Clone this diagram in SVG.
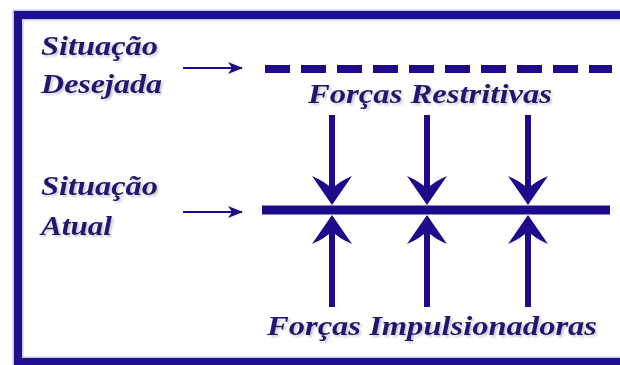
<svg xmlns="http://www.w3.org/2000/svg" width="620" height="365" viewBox="0 0 620 365">
  <style>
    .lbl { font-family: "Liberation Serif", "Times New Roman", serif; font-weight: bold; font-style: italic; font-size: 28px; fill: #22196f; }
    .ink { stroke: #1c0c8c; fill: none; }
    .head { fill: #1c0c8c; stroke: none; }
  </style>
  <defs>
    <filter id="soft" x="-5%" y="-20%" width="110%" height="140%">
      <feGaussianBlur in="SourceAlpha" stdDeviation="1.2"/>
      <feOffset dx="1.5" dy="1.5" result="b"/>
      <feComponentTransfer><feFuncA type="linear" slope="0.2"/></feComponentTransfer>
      <feMerge><feMergeNode/><feMergeNode in="SourceGraphic"/></feMerge>
    </filter>
    <marker id="tip" viewBox="0 0 15 12" refX="14" refY="6" markerWidth="15" markerHeight="12" markerUnits="userSpaceOnUse" orient="auto">
      <path d="M0,0 L15,6 L0,12 L4,6 Z" fill="#1c0c8c"/>
    </marker>
  </defs>

  <rect width="620" height="365" fill="#ffffff"/>

  <!-- outer frame, open to the right -->
  <g id="frame">
    <rect x="18" y="15" width="640" height="347" fill="none" stroke="#c9c6f0" stroke-width="11"/>
    <rect x="18" y="15" width="640" height="347" fill="none" stroke="#1d0f8f" stroke-width="8"/>
  </g>

  <g id="desired" filter="url(#soft)">
    <text class="lbl" x="41" y="55" textLength="117" lengthAdjust="spacingAndGlyphs">Situação</text>
    <text class="lbl" x="41" y="93" textLength="121" lengthAdjust="spacingAndGlyphs">Desejada</text>
  </g>

  <g id="current" filter="url(#soft)">
    <text class="lbl" x="41" y="195" textLength="117" lengthAdjust="spacingAndGlyphs">Situação</text>
    <text class="lbl" x="41" y="235" textLength="71" lengthAdjust="spacingAndGlyphs">Atual</text>
  </g>

  <g id="restraining" filter="url(#soft)">
    <text class="lbl" x="308" y="103" textLength="244" lengthAdjust="spacingAndGlyphs">Forças Restritivas</text>
  </g>

  <g id="driving" filter="url(#soft)">
    <text class="lbl" x="267" y="335" textLength="330" lengthAdjust="spacingAndGlyphs">Forças Impulsionadoras</text>
  </g>

  <g id="connectors">
    <!-- level lines -->
    <line class="ink" x1="265" y1="69" x2="612" y2="69" stroke-width="8" stroke-dasharray="25 11"/>
    <line class="ink" x1="262" y1="210" x2="610" y2="210" stroke-width="9"/>

    <!-- pointers from the labels -->
    <line class="ink" x1="183" y1="68" x2="242" y2="68" stroke-width="2.2" marker-end="url(#tip)"/>
    <line class="ink" x1="183" y1="212" x2="242" y2="212" stroke-width="2.2" marker-end="url(#tip)"/>

    <!-- restraining forces (down) -->
    <line class="ink" x1="332" y1="115" x2="332" y2="192" stroke-width="6"/>
    <line class="ink" x1="427" y1="115" x2="427" y2="192" stroke-width="6"/>
    <line class="ink" x1="528" y1="115" x2="528" y2="192" stroke-width="6"/>
    <path class="head" d="M332,205 L312,176 Q326,182 332,189 Q338,182 352,176 Z"/>
    <path class="head" d="M427,205 L407,176 Q421,182 427,189 Q433,182 447,176 Z"/>
    <path class="head" d="M528,205 L508,176 Q522,182 528,189 Q534,182 548,176 Z"/>

    <!-- driving forces (up) -->
    <line class="ink" x1="332" y1="230" x2="332" y2="307" stroke-width="6"/>
    <line class="ink" x1="427" y1="230" x2="427" y2="307" stroke-width="6"/>
    <line class="ink" x1="528" y1="230" x2="528" y2="307" stroke-width="6"/>
    <path class="head" d="M332,215 L312,244 Q326,238 332,231 Q338,238 352,244 Z"/>
    <path class="head" d="M427,215 L407,244 Q421,238 427,231 Q433,238 447,244 Z"/>
    <path class="head" d="M528,215 L508,244 Q522,238 528,231 Q534,238 548,244 Z"/>
  </g>
</svg>
